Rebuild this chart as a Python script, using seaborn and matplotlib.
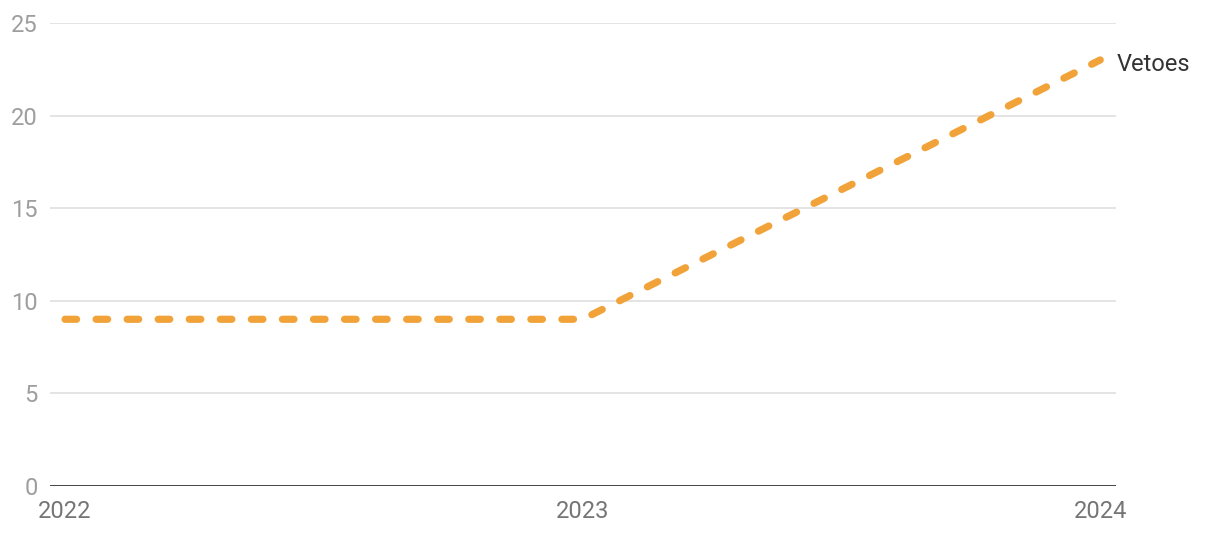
import numpy as np
import pandas as pd
import seaborn as sns
import matplotlib.pyplot as plt

years = [2022, 2023, 2024]
vetoes = [9, 9, 23]
series_name = 'Vetoes'
y_ticks = [0, 5, 10, 15, 20, 25]

df = pd.DataFrame({'year': years, 'value': vetoes})

sns.set_style('white')
plt.rcParams['font.family'] = ['Roboto', 'DejaVu Sans']

fig = plt.figure(figsize=(12.2, 5.36), dpi=100)
ax = fig.add_axes([0.041, 0.0933, 0.874, 0.864])

ax = sns.lineplot(x='year', y='value', data=df, ax=ax, color='#F1A33A',
                  linewidth=5.2, zorder=3)
line = ax.lines[0]
line.set_dashes([1.6, 2.7])
line.set_dash_capstyle('round')
line.set_solid_capstyle('round')

ax.set_xlim(2021.971, 2024.031)
ax.set_ylim(0, 25)
ax.set_yticks(y_ticks)
ax.set_xticks(years)
ax.set_xticklabels([str(y) for y in years])

for t in y_ticks[1:]:
    ax.axhline(t, color='#e2e2e2', linewidth=1.3, zorder=1)
ax.axhline(0, color='#333333', linewidth=2.0, zorder=2)

for s in ax.spines.values():
    s.set_visible(False)

ax.tick_params(axis='y', length=0, pad=9, labelsize=17, labelcolor='#9e9e9e')
ax.tick_params(axis='x', length=0, pad=10, labelsize=17, labelcolor='#757575')
ax.set_xlabel('')
ax.set_ylabel('')

ax.annotate(series_name, xy=(years[-1], vetoes[-1]), xytext=(11.5, -3),
            textcoords='offset points', va='center', ha='left',
            fontsize=17, color='#333333', annotation_clip=False)

fig.savefig('out.png', dpi=100)
